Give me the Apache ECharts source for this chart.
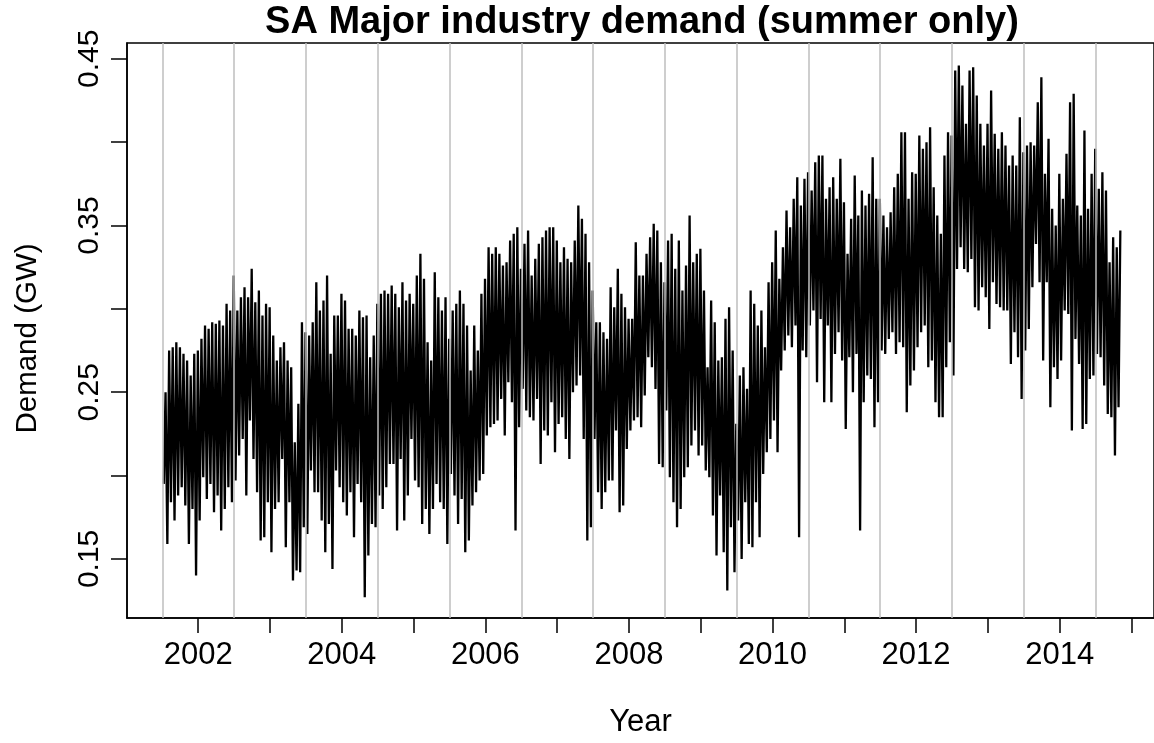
<!DOCTYPE html>
<html>
<head>
<meta charset="utf-8">
<title>SA Major industry demand (summer only)</title>
<script src="https://cdn.jsdelivr.net/npm/echarts@6/dist/echarts.min.js"></script>
<style>
  html, body { margin: 0; padding: 0; background: #fff; }
  #chart { width: 1154px; height: 743px; }
</style>
</head>
<body>
<div id="chart"></div>
<script>
// half-hourly demand is far too dense to list, so the band is kept as
// the low / high envelope every 0.05 years
var firstSample = 2001.52;
var sampleStep = 0.05;

var hiVals = [
  0.250, 0.275, 0.277, 0.280, 0.277, 0.273, 0.269, 0.260, 0.273, 0.275,
  0.282, 0.290, 0.288, 0.292, 0.291, 0.293, 0.290, 0.303, 0.299, 0.320,
  0.299, 0.307, 0.313, 0.307, 0.324, 0.304, 0.311, 0.296, 0.303, 0.301,
  0.284, 0.269, 0.277, 0.280, 0.269, 0.265, 0.220, 0.243, 0.292, 0.286,
  0.284, 0.292, 0.316, 0.299, 0.305, 0.320, 0.273, 0.296, 0.296, 0.309,
  0.305, 0.288, 0.288, 0.284, 0.299, 0.295, 0.296, 0.271, 0.284, 0.303,
  0.309, 0.311, 0.309, 0.314, 0.309, 0.301, 0.316, 0.305, 0.309, 0.303,
  0.320, 0.333, 0.318, 0.280, 0.269, 0.322, 0.307, 0.299, 0.307, 0.282,
  0.299, 0.303, 0.311, 0.303, 0.290, 0.263, 0.290, 0.275, 0.309, 0.318,
  0.337, 0.333, 0.337, 0.333, 0.326, 0.328, 0.341, 0.345, 0.349, 0.324,
  0.339, 0.347, 0.320, 0.330, 0.339, 0.343, 0.347, 0.349, 0.349, 0.341,
  0.328, 0.337, 0.330, 0.328, 0.341, 0.362, 0.354, 0.345, 0.328, 0.311,
  0.292, 0.292, 0.286, 0.282, 0.313, 0.301, 0.324, 0.309, 0.301, 0.294,
  0.294, 0.340, 0.320, 0.320, 0.333, 0.343, 0.351, 0.347, 0.328, 0.316,
  0.341, 0.345, 0.324, 0.341, 0.311, 0.326, 0.356, 0.328, 0.333, 0.336,
  0.311, 0.265, 0.305, 0.292, 0.269, 0.271, 0.294, 0.301, 0.275, 0.231,
  0.260, 0.265, 0.252, 0.311, 0.303, 0.290, 0.299, 0.277, 0.316, 0.328,
  0.347, 0.318, 0.337, 0.359, 0.349, 0.366, 0.379, 0.362, 0.378, 0.382,
  0.371, 0.388, 0.392, 0.392, 0.366, 0.373, 0.379, 0.366, 0.390, 0.364,
  0.333, 0.354, 0.380, 0.356, 0.371, 0.362, 0.369, 0.391, 0.366, 0.366,
  0.356, 0.349, 0.358, 0.373, 0.381, 0.406, 0.406, 0.366, 0.382, 0.381,
  0.404, 0.396, 0.400, 0.409, 0.373, 0.356, 0.345, 0.392, 0.406, 0.404,
  0.443, 0.446, 0.434, 0.411, 0.443, 0.445, 0.428, 0.411, 0.398, 0.411,
  0.431, 0.405, 0.396, 0.406, 0.398, 0.386, 0.392, 0.386, 0.415, 0.394,
  0.398, 0.400, 0.398, 0.424, 0.439, 0.381, 0.402, 0.360, 0.350, 0.381,
  0.366, 0.393, 0.424, 0.429, 0.362, 0.356, 0.407, 0.360, 0.381, 0.396,
  0.372, 0.382, 0.371, 0.328, 0.343, 0.337, 0.347
];

var loVals = [
  0.195, 0.159, 0.184, 0.173, 0.188, 0.193, 0.182, 0.159, 0.180, 0.140,
  0.173, 0.199, 0.186, 0.195, 0.178, 0.188, 0.167, 0.180, 0.193, 0.184,
  0.197, 0.212, 0.222, 0.188, 0.233, 0.210, 0.190, 0.161, 0.163, 0.184,
  0.154, 0.180, 0.184, 0.210, 0.157, 0.184, 0.137, 0.143, 0.142, 0.169,
  0.165, 0.203, 0.190, 0.190, 0.173, 0.154, 0.171, 0.144, 0.203, 0.193,
  0.184, 0.176, 0.190, 0.163, 0.195, 0.184, 0.127, 0.152, 0.171, 0.169,
  0.188, 0.180, 0.193, 0.207, 0.207, 0.167, 0.210, 0.173, 0.188, 0.222,
  0.197, 0.193, 0.171, 0.180, 0.165, 0.180, 0.195, 0.184, 0.180, 0.159,
  0.201, 0.188, 0.171, 0.186, 0.154, 0.161, 0.182, 0.190, 0.197, 0.201,
  0.224, 0.229, 0.231, 0.233, 0.246, 0.224, 0.256, 0.244, 0.167, 0.229,
  0.252, 0.239, 0.235, 0.233, 0.246, 0.207, 0.227, 0.224, 0.244, 0.214,
  0.231, 0.235, 0.222, 0.210, 0.250, 0.254, 0.260, 0.222, 0.161, 0.169,
  0.222, 0.190, 0.180, 0.190, 0.197, 0.197, 0.227, 0.178, 0.182, 0.216,
  0.227, 0.233, 0.235, 0.229, 0.248, 0.271, 0.265, 0.252, 0.207, 0.205,
  0.239, 0.199, 0.184, 0.169, 0.180, 0.199, 0.205, 0.218, 0.227, 0.212,
  0.218, 0.203, 0.199, 0.176, 0.152, 0.188, 0.154, 0.131, 0.169, 0.142,
  0.173, 0.150, 0.184, 0.159, 0.157, 0.184, 0.163, 0.201, 0.214, 0.222,
  0.233, 0.214, 0.263, 0.275, 0.284, 0.277, 0.290, 0.163, 0.275, 0.271,
  0.290, 0.299, 0.256, 0.294, 0.244, 0.290, 0.244, 0.273, 0.286, 0.269,
  0.228, 0.271, 0.250, 0.273, 0.167, 0.244, 0.260, 0.258, 0.229, 0.244,
  0.275, 0.273, 0.282, 0.286, 0.273, 0.280, 0.277, 0.238, 0.254, 0.263,
  0.277, 0.286, 0.290, 0.265, 0.269, 0.244, 0.235, 0.235, 0.265, 0.280,
  0.260, 0.324, 0.337, 0.324, 0.322, 0.330, 0.301, 0.299, 0.313, 0.307,
  0.288, 0.316, 0.303, 0.301, 0.299, 0.299, 0.267, 0.286, 0.271, 0.246,
  0.275, 0.288, 0.313, 0.339, 0.316, 0.269, 0.316, 0.241, 0.265, 0.258,
  0.269, 0.299, 0.297, 0.227, 0.282, 0.267, 0.228, 0.231, 0.258, 0.260,
  0.273, 0.271, 0.254, 0.237, 0.235, 0.212, 0.241
];

// axis furniture
var yearTicks = [2002, 2003, 2004, 2005, 2006, 2007, 2008, 2009, 2010, 2011, 2012, 2013, 2014, 2015];
var yearLabels = [2002, 2004, 2006, 2008, 2010, 2012, 2014];
var summerBreaks = [2001.5, 2002.5, 2003.5, 2004.5, 2005.5, 2006.5, 2007.5, 2008.5, 2009.5, 2010.5, 2011.5, 2012.5, 2013.5, 2014.5];
var demandTicks = [0.15, 0.20, 0.25, 0.30, 0.35, 0.40, 0.45];
var demandLabels = [0.15, 0.25, 0.35, 0.45];

// zig-zag low -> high so the line fills the band like the raw series does
var trace = [];
loVals.forEach(function (lo, i) {
  var t = firstSample + i * sampleStep;
  trace.push([t, lo]);
  trace.push([t + sampleStep / 2, hiVals[i]]);
});

var font = "'Liberation Sans', Arial, Helvetica, sans-serif";
var myChart = echarts.init(document.getElementById('chart'), null, { renderer: 'canvas' });

var option = {
  animation: false,
  backgroundColor: '#fff',
  title: {
    text: 'SA Major industry demand (summer only)',
    left: 642,
    textAlign: 'center',
    top: 4,
    padding: 0,
    textStyle: { fontFamily: font, fontSize: 38, fontWeight: 'bold', color: '#000' }
  },
  grid: {
    left: 127,
    right: -1,
    top: 43,
    bottom: 119,
    show: true,
    borderColor: '#000',
    borderWidth: 1.5
  },
  xAxis: {
    type: 'value',
    min: 2001.008,
    max: 2015.314,
    name: 'Year',
    nameLocation: 'middle',
    nameGap: 89,
    nameTextStyle: { fontFamily: font, fontSize: 31, color: '#000' },
    axisLine: { show: true, lineStyle: { color: '#000', width: 1.5 } },
    axisTick: {
      show: true, inside: false, length: 15,
      customValues: yearTicks,
      lineStyle: { color: '#000', width: 1.5 }
    },
    axisLabel: {
      show: true, margin: 22,
      customValues: yearLabels,
      fontFamily: font, fontSize: 31, color: '#000',
      formatter: function (v) { return String(Math.round(v)); }
    },
    splitLine: { show: false }
  },
  yAxis: {
    type: 'value',
    min: 0.11455,
    max: 0.4595,
    name: 'Demand (GW)',
    nameLocation: 'middle',
    nameRotate: 90,
    nameGap: 84,
    nameTextStyle: { fontFamily: font, fontSize: 29.5, color: '#000', padding: [0, 16, 0, 0] },
    axisLine: { show: true, lineStyle: { color: '#000', width: 1.5 } },
    axisTick: {
      show: true, inside: false, length: 16,
      customValues: demandTicks,
      lineStyle: { color: '#000', width: 1.5 }
    },
    axisLabel: {
      show: true, rotate: 90, margin: 22,
      customValues: demandLabels,
      fontFamily: font, fontSize: 30, color: '#000',
      formatter: function (v) { return v.toFixed(2); }
    },
    splitLine: { show: false }
  },
  series: [
    {
      // grey separators between summers, drawn under the data
      type: 'line',
      z: 1,
      data: [],
      silent: true,
      markLine: {
        silent: true,
        symbol: ['none', 'none'],
        label: { show: false },
        lineStyle: { color: '#BEBEBE', width: 1.5, type: 'solid' },
        data: summerBreaks.map(function (x) { return { xAxis: x }; })
      }
    },
    {
      type: 'line',
      z: 2,
      data: trace,
      showSymbol: false,
      symbol: 'none',
      sampling: null,
      lineStyle: { color: '#000', width: 2.3 },
      silent: true
    }
  ]
};

myChart.setOption(option);
</script>
</body>
</html>
